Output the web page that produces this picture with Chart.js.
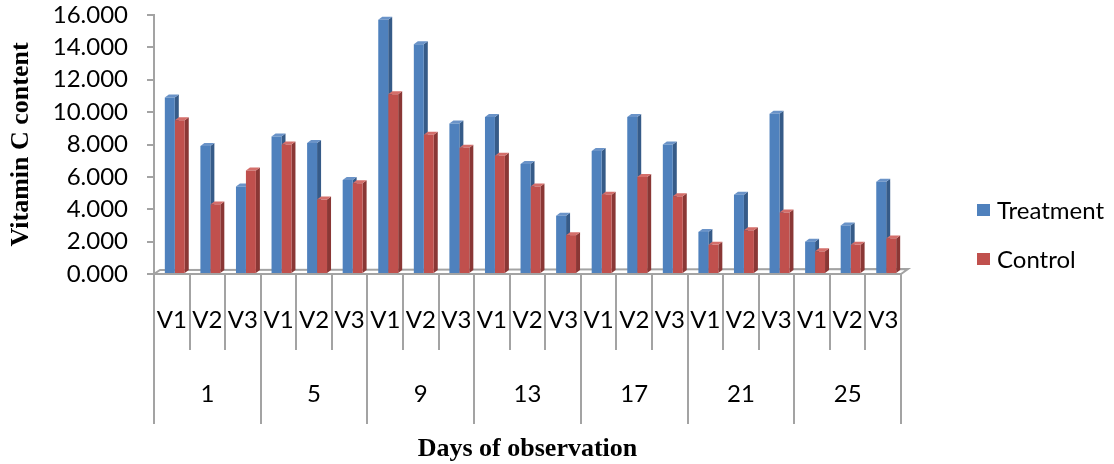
<!DOCTYPE html>
<html>
<head>
<meta charset="utf-8">
<script src="https://cdn.jsdelivr.net/npm/chart.js@4/dist/chart.umd.min.js"></script>
<style>
  html, body { margin: 0; padding: 0; background: #ffffff; }
  #wrap { width: 1114px; height: 464px; position: relative; }
</style>
</head>
<body>
<div id="wrap"><canvas id="c"></canvas></div>
<script>
// Observation days (outer category level) and varieties (inner level)
const days = ['1', '5', '9', '13', '17', '21', '25'];
const varieties = ['V1', 'V2', 'V3'];

// Vitamin C content per day / variety (V1, V2, V3 for each day)
const treatment = [10.9, 7.9, 5.4,  8.5, 8.1, 5.8,  15.7, 14.2, 9.3,  9.7, 6.8, 3.6,  7.6, 9.7, 8.0,  2.6, 4.9, 9.9,  2.0, 3.0, 5.7];
const control   = [ 9.5, 4.3, 6.4,  8.0, 4.6, 5.6,  11.1,  8.6, 7.8,  7.3, 5.4, 2.4,  4.9, 6.0, 4.8,  1.8, 2.7, 3.8,  1.4, 1.8, 2.2];

// Value axis range
const yMin = 0, yMax = 16, yStep = 2;

const categories = days.flatMap(() => varieties);

const LABEL_FONT = { family: 'Lato, "Open Sans", sans-serif', size: 24 };
const LEGEND_FONT = { family: 'Lato, "Open Sans", sans-serif', size: 24 };
const SERIF = '"Liberation Serif", "Times New Roman", serif';
const AXIS_GRAY = '#a3a3a3';

// Depth of the 3-D boxes and of the floor
const BOX = { dx: 4, dy: 3, shift: 3 };
const FLOOR = { dx: 7, dy: 5 };
const faces = [
  { side: '#365B88', top: '#6A93C8' },
  { side: '#8A3735', top: '#D46E6A' }
];

const depthPlugin = {
  id: 'depth3d',
  beforeDatasetsDraw(chart) {
    const { ctx, chartArea: a } = chart;
    // floor of the plot
    ctx.save();
    ctx.beginPath();
    ctx.moveTo(a.left, a.bottom);
    ctx.lineTo(a.right, a.bottom);
    ctx.lineTo(a.right + FLOOR.dx, a.bottom - FLOOR.dy);
    ctx.lineTo(a.left + FLOOR.dx - 1, a.bottom - FLOOR.dy + 1);
    ctx.closePath();
    ctx.fillStyle = '#ffffff';
    ctx.fill();
    ctx.strokeStyle = AXIS_GRAY;
    ctx.lineWidth = 2;
    ctx.stroke();
    ctx.restore();

    // boxes sit slightly behind the front edge
    ctx.save();
    ctx.translate(BOX.shift, 0);
    const metas = chart.data.datasets.map((_, i) => chart.getDatasetMeta(i));
    const n = metas[0].data.length;
    for (let i = 0; i < n; i++) {
      metas.forEach((meta, d) => {
        const el = meta.data[i];
        const { x, y, base, width } = el.getProps(['x', 'y', 'base', 'width'], true);
        const l = x - width / 2, r = x + width / 2;
        // right side
        ctx.beginPath();
        ctx.moveTo(r, y);
        ctx.lineTo(r + BOX.dx, y - BOX.dy);
        ctx.lineTo(r + BOX.dx, base - BOX.dy);
        ctx.lineTo(r, base);
        ctx.closePath();
        ctx.fillStyle = faces[d].side;
        ctx.fill();
        // top
        ctx.beginPath();
        ctx.moveTo(l, y);
        ctx.lineTo(l + BOX.dx, y - BOX.dy);
        ctx.lineTo(r + BOX.dx, y - BOX.dy);
        ctx.lineTo(r, y);
        ctx.closePath();
        ctx.fillStyle = faces[d].top;
        ctx.fill();
      });
    }
  },
  afterDatasetsDraw(chart) {
    chart.ctx.restore();
  }
};

// Divider lines of the two-level category axis
const dividerPlugin = {
  id: 'dividers',
  afterDraw(chart) {
    const { ctx, chartArea: a } = chart;
    const xs = chart.scales.x;
    const n = categories.length;
    const slot = (xs.getPixelForValue(n - 1) - xs.getPixelForValue(0)) / (n - 1);
    const innerBottom = xs.bottom - 1;
    const outerBottom = chart.scales.x2.top + 73;
    ctx.save();
    ctx.strokeStyle = AXIS_GRAY;
    ctx.lineWidth = 2;
    for (let i = 0; i <= n; i++) {
      const px = Math.round(xs.getPixelForValue(0) - slot / 2 + i * slot);
      ctx.beginPath();
      ctx.moveTo(px, a.bottom);
      ctx.lineTo(px, i % varieties.length === 0 ? outerBottom : innerBottom);
      ctx.stroke();
    }
    ctx.restore();
  }
};

// Legend at the right
const legendPlugin = {
  id: 'sideLegend',
  afterDraw(chart) {
    const { ctx } = chart;
    const rows = [210, 259];
    ctx.save();
    ctx.font = `${LEGEND_FONT.size}px ${LEGEND_FONT.family}`;
    ctx.textBaseline = 'middle';
    chart.data.datasets.forEach((ds, i) => {
      ctx.fillStyle = ds.backgroundColor;
      ctx.fillRect(977, rows[i] - 6, 13, 12);
      ctx.fillStyle = '#000000';
      ctx.fillText(ds.label, 997, rows[i] + 1);
    });
    ctx.restore();
  }
};

new Chart(document.getElementById('c'), {
  type: 'bar',
  data: {
    labels: categories,
    datasets: [
      { label: 'Treatment', data: treatment, backgroundColor: '#4F81BD' },
      { label: 'Control', data: control, backgroundColor: '#C0504D' }
    ]
  },
  options: {
    responsive: true,
    maintainAspectRatio: false,
    animation: false,
    categoryPercentage: 0.56,
    barPercentage: 1.0,
    layout: { padding: { left: 0, top: 0, right: 213, bottom: 0 } },
    plugins: {
      legend: { display: false },
      tooltip: { enabled: false }
    },
    scales: {
      y: {
        min: yMin, max: yMax,
        ticks: {
          stepSize: yStep,
          padding: 19,
          autoSkip: false,
          color: '#000000',
          font: LABEL_FONT,
          callback: v => Number(v).toFixed(3)
        },
        grid: { drawOnChartArea: false, drawTicks: true, tickLength: 7, color: AXIS_GRAY, lineWidth: 2 },
        border: { display: true, color: AXIS_GRAY, width: 2 },
        title: { display: true, text: 'Vitamin C content', color: '#000000', font: { family: SERIF, size: 26, weight: 'bold' }, padding: { top: 6, bottom: 0 } },
        afterFit: s => { s.width = 154; s.paddingTop = 15; s.paddingBottom = 0; }
      },
      x: {
        position: 'bottom',
        ticks: { color: '#000000', font: LABEL_FONT, padding: 24, maxRotation: 0, autoSkip: false },
        grid: { display: false },
        border: { display: false },
        afterFit: s => { s.height = 77; }
      },
      x2: {
        type: 'category',
        position: 'bottom',
        labels: days,
        offset: true,
        ticks: { color: '#000000', font: LABEL_FONT, padding: 21, maxRotation: 0, autoSkip: false },
        grid: { display: false },
        border: { display: false },
        title: { display: true, text: 'Days of observation', color: '#000000', font: { family: SERIF, size: 26, weight: 'bold' }, padding: { top: 0, bottom: -1 } },
        afterFit: s => { s.height = 113; }
      }
    }
  },
  plugins: [depthPlugin, dividerPlugin, legendPlugin]
});
</script>
</body>
</html>
